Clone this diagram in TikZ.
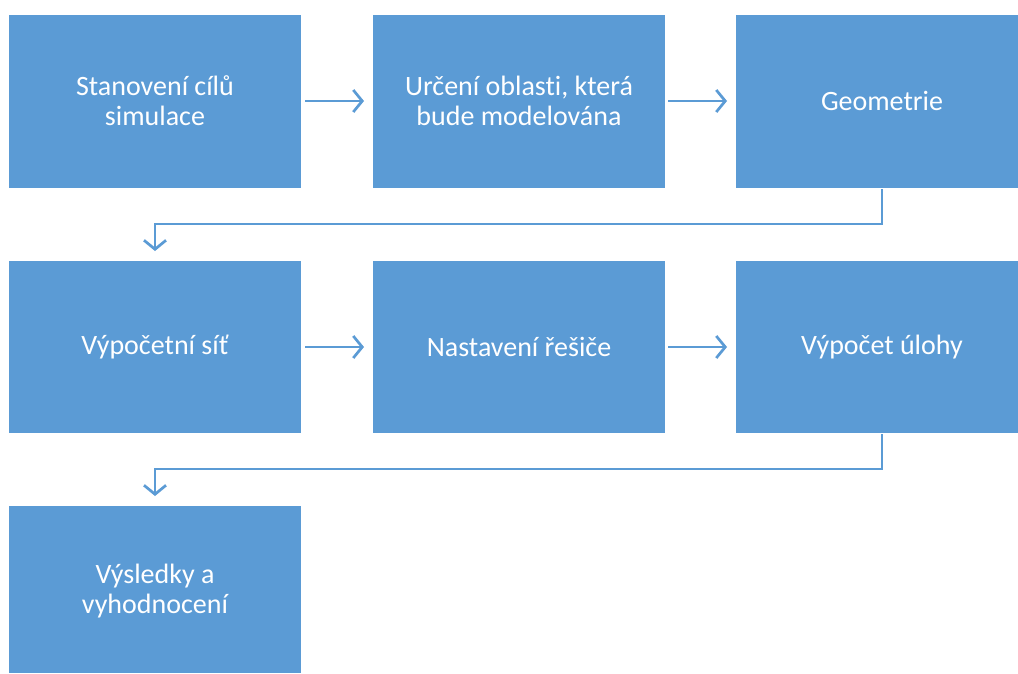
\documentclass[tikz,border=0pt]{standalone}
\usepackage{fontspec}
\setmainfont{Carlito}[Ligatures=NoCommon]
\usetikzlibrary{arrows.meta}
\definecolor{boxblue}{HTML}{5B9BD5}
\tikzset{
  stepbox/.style={fill=boxblue, draw=none, text=white, align=center, font=\fontsize{28}{30}\selectfont, inner sep=0pt},
  conn/.style={draw=boxblue, line width=2.7pt, -{Straight Barb[length=9pt,width=22pt,line width=2.7pt]}},
}
\begin{document}
\begin{tikzpicture}[x=1pt,y=-1pt]
\useasboundingbox (0,0) rectangle (1018,673);
\path[fill=white] (0,0) rectangle (1018,673);
% boxes
\path[fill=boxblue] (9,15) rectangle (301,188);
\node[stepbox] (b1) at (155,101) {Stanovení cílů\\simulace};
\path[fill=boxblue] (373,15) rectangle (665,188);
\node[stepbox] (b2) at (519,101) {Určení oblast\kern0pt i, která\\bude modelována};
\path[fill=boxblue] (736,15) rectangle (1018,188);
\node[stepbox] (b3) at (882,101) {Geometrie};
\path[fill=boxblue] (9,261) rectangle (301,433);
\node[stepbox] (b4) at (155,347) {Výpočetní síť};
\path[fill=boxblue] (373,261) rectangle (665,433);
\node[stepbox] (b5) at (519,347) {Nastavení řešiče};
\path[fill=boxblue] (736,261) rectangle (1018,433);
\node[stepbox] (b6) at (882,347) {Výpočet úlohy};
\path[fill=boxblue] (9,506) rectangle (301,673);
\node[stepbox] (b7) at (155,591) {Výsledky a\\vyhodnocení};
% connector anchors
\coordinate (a1s) at (305,101); \coordinate (a1e) at (364,101);
\coordinate (a2s) at (668,101); \coordinate (a2e) at (727,101);
\coordinate (a3s) at (882,189); \coordinate (a3e) at (155,251);
\coordinate (a4s) at (305,347); \coordinate (a4e) at (364,347);
\coordinate (a5s) at (668,347); \coordinate (a5e) at (727,347);
\coordinate (a6s) at (882,434); \coordinate (a6e) at (155,496);
\draw[conn] (a1s) -- (a1e);
\draw[conn] (a2s) -- (a2e);
\draw[conn] (a3s) -- (882,224) -- (155,224) -- (a3e);
\draw[conn] (a4s) -- (a4e);
\draw[conn] (a5s) -- (a5e);
\draw[conn] (a6s) -- (882,469) -- (155,469) -- (a6e);
\end{tikzpicture}
\end{document}
